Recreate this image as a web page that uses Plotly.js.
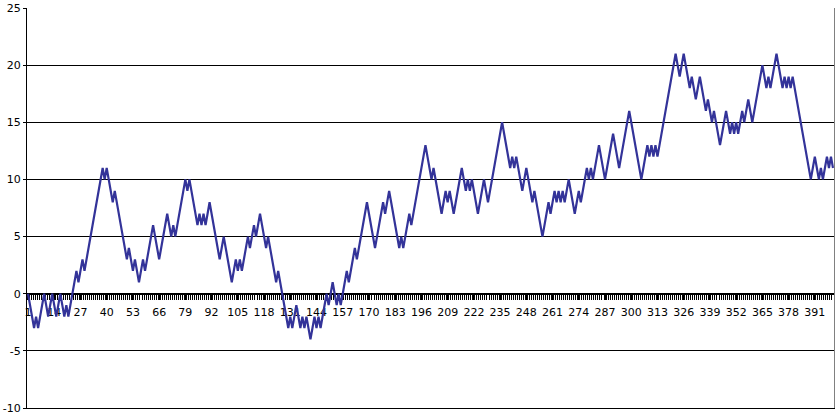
<!DOCTYPE html>
<html>
<head>
<meta charset="utf-8">
<script src="https://cdn.plot.ly/plotly-3.0.1.min.js"></script>
<style>
  html, body { margin: 0; padding: 0; background: #fff; }
  #chart { width: 839px; height: 414px; }
</style>
</head>
<body>
<div id="chart"></div>
<script>
// walk values, 100 steps per block
const walkPart1 = [
    0,-1,-2,-3,-2,-3,-2,-1,0,-1,
    -2,-1,0,-1,-2,-1,0,-1,-2,-1,
    -2,-1,0,1,2,1,2,3,2,3,
    4,5,6,7,8,9,10,11,10,11,
    10,9,8,9,8,7,6,5,4,3,
    4,3,2,3,2,1,2,3,2,3,
    4,5,6,5,4,3,4,5,6,7,
    6,5,6,5,6,7,8,9,10,9,
    10,9,8,7,6,7,6,7,6,7,
    8,7,6,5,4,3,4,5,4,3
];
const walkPart2 = [
    2,1,2,3,2,3,2,3,4,5,
    4,5,6,5,6,7,6,5,4,5,
    4,3,2,1,2,1,0,-1,-2,-3,
    -2,-3,-2,-1,-2,-3,-2,-3,-2,-3,
    -4,-3,-2,-3,-2,-3,-2,-1,0,-1,
    0,1,0,-1,0,-1,0,1,2,1,
    2,3,4,3,4,5,6,7,8,7,
    6,5,4,5,6,7,8,7,8,9,
    8,7,6,5,4,5,4,5,6,7,
    6,7,8,9,10,11,12,13,12,11
];
const walkPart3 = [
    10,11,10,9,8,7,8,9,8,9,
    8,7,8,9,10,11,10,9,10,9,
    10,9,8,7,8,9,10,9,8,9,
    10,11,12,13,14,15,14,13,12,11,
    12,11,12,11,10,9,10,11,10,9,
    8,9,8,7,6,5,6,7,8,7,
    8,9,8,9,8,9,8,9,10,9,
    8,7,8,9,8,9,10,11,10,11,
    10,11,12,13,12,11,10,11,12,13,
    14,13,12,11,12,13,14,15,16,15
];
const walkPart4 = [
    14,13,12,11,10,11,12,13,12,13,
    12,13,12,13,14,15,16,17,18,19,
    20,21,20,19,20,21,20,19,18,19,
    18,17,18,19,18,17,16,17,16,15,
    16,15,14,13,14,15,16,15,14,15,
    14,15,14,15,16,15,16,17,16,15,
    16,17,18,19,20,19,18,19,18,19,
    20,21,20,19,18,19,18,19,18,19,
    18,17,16,15,14,13,12,11,10,11,
    12,11,10,11,10,11,12,11,12,11
];

const tickLabels = ["1","14","27","40","53","66","79","92","105","118","131",
    "144","157","170","183","196","209","222","235","248","261","274",
    "287","300","313","326","339","352","365","378","391"];

const yTicks = [-10, -5, 0, 5, 10, 15, 20, 25];

const walk = walkPart1.concat(walkPart2, walkPart3, walkPart4);
const categories = walk.map((v, i) => i + 1);

const traces = [{
    x: categories,
    y: walk,
    type: 'scatter',
    mode: 'lines',
    line: {color: '#333399', width: 2.2},
    hoverinfo: 'skip'
}, {
    // empty trace so the border axes (x2 / y2) get drawn
    x: [], y: [],
    xaxis: 'x2', yaxis: 'y2',
    type: 'scatter', mode: 'lines',
    hoverinfo: 'skip'
}];

const axisFont = {family: 'DejaVu Sans, Verdana, sans-serif', size: 11, color: '#000'};
const xRange = [0.5, categories.length + 0.5];
const yRange = [-10, 25];

// plain line-only axes used as plot-area borders (bottom and right)
const borderAxis = (side, color) => ({
    overlaying: side === 'bottom' ? 'x' : 'y',
    side: side,
    range: side === 'bottom' ? xRange : yRange,
    showline: true,
    linecolor: color,
    linewidth: 1,
    showticklabels: false,
    ticks: '',
    showgrid: false,
    zeroline: false,
    fixedrange: true
});

const layout = {
    width: 839,
    height: 414,
    margin: {l: 27, r: 5, t: 8, b: 6},
    paper_bgcolor: '#fff',
    plot_bgcolor: '#fff',
    showlegend: false,
    xaxis: {
        range: xRange,
        anchor: 'free',
        position: 10 / 35,
        tickmode: 'array',
        tickvals: tickLabels.map(Number),
        ticktext: tickLabels,
        ticks: 'outside',
        ticklen: 5,
        tickcolor: '#000',
        tickfont: axisFont,
        ticklabelstandoff: 3,
        minor: {ticks: 'outside', tickmode: 'linear', tick0: 0.5, dtick: 1, ticklen: 5, tickcolor: '#000', showgrid: false},
        showline: true,
        linecolor: '#000',
        linewidth: 1,
        showgrid: false,
        zeroline: false,
        layer: 'below traces',
        fixedrange: true
    },
    xaxis2: Object.assign(borderAxis('bottom', '#000'), {anchor: 'y2'}),
    yaxis: {
        range: yRange,
        tickmode: 'array',
        tickvals: yTicks,
        ticktext: yTicks.map(String),
        ticks: 'outside',
        ticklen: 3,
        tickcolor: '#000',
        tickfont: axisFont,
        ticklabeloverflow: 'allow',
        showline: true,
        linecolor: '#000',
        linewidth: 1,
        showgrid: true,
        gridcolor: '#000',
        gridwidth: 1,
        zeroline: false,
        layer: 'below traces',
        fixedrange: true
    },
    yaxis2: Object.assign(borderAxis('right', '#808080'), {anchor: 'x2'})
};

const plotConfig = {responsive: false, displayModeBar: false, staticPlot: true};
Plotly.newPlot('chart', traces, layout, plotConfig);
</script>
</body>
</html>
